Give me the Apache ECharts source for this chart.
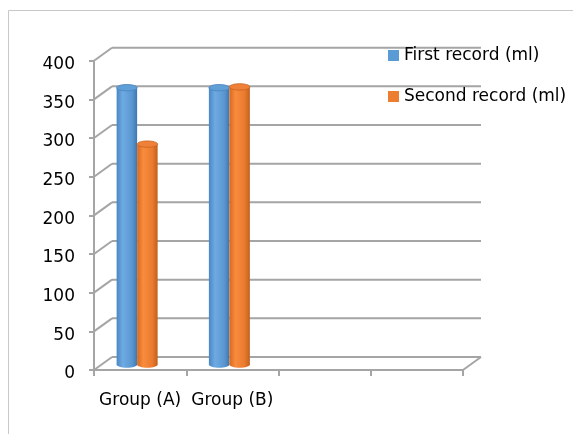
<!DOCTYPE html>
<html>
<head>
<meta charset="utf-8">
<script src="https://cdn.jsdelivr.net/npm/echarts@6/dist/echarts.min.js"></script>
<style>
html,body{margin:0;padding:0;background:#fff;}
#chart{width:573px;height:434px;}
</style>
</head>
<body>
<div id="chart"></div>
<script>
// ---- data ----
const categories = ['Group (A)', 'Group (B)', '', ''];
const seriesNames = ['First record (ml)', 'Second record (ml)'];
const firstRecord = [358, 358];
const secondRecord = [285, 359];
const yTicks = [0, 50, 100, 150, 200, 250, 300, 350, 400];

// ---- style constants ----
const FONT = 'DejaVu Sans';
const FS = 17;
const GRID_COLOR = '#a5a5a5';
const DX = 18, DY = -13;       // depth offset of back wall
const BAR_OFF_Y = -5.5;        // bars stand mid-depth
const BAR_W = 20.5;
const PAIR_SHIFT = -3;

const chart = echarts.init(document.getElementById('chart'), null, {renderer: 'canvas'});

function frameRender(params, api) {
  const v = api.value(1);
  const p = api.coord([0, v]);
  const band = api.size([1, 0])[0];
  const x0 = p[0] - band / 2;
  const x1 = x0 + categories.length * band;
  const y = p[1];
  const st = {stroke: GRID_COLOR, lineWidth: 2};
  const children = [
    {type: 'line', shape: {x1: x0, y1: y, x2: x0 + DX, y2: y + DY}, style: st},
    {type: 'line', shape: {x1: x0 + DX, y1: y + DY, x2: x1 + DX, y2: y + DY}, style: st}
  ];
  if (v === 0) {
    children.push({type: 'line', shape: {x1: x1, y1: y, x2: x1 + DX, y2: y + DY}, style: st});
  }
  return {type: 'group', children};
}

const palettes = [
  {grad: [[0, '#4a86c4'], [0.3, '#6eaae2'], [0.75, '#5a97d2'], [1, '#3f77b0']], top: '#5f9fd8', edge: '#4a82bd'},
  {grad: [[0, '#d8691f'], [0.3, '#f88c3d'], [0.75, '#ea7a2e'], [1, '#c0601c']], top: '#ee8038', edge: '#c9621d'}
];

function cylRender(idx) {
  return function (params, api) {
    const ci = api.value(0), v = api.value(1);
    const c = api.coord([ci, v]);
    const base = api.coord([ci, 0]);
    const rx = BAR_W / 2, ry = 3.2;
    const cx = c[0] + PAIR_SHIFT + (idx === 0 ? -rx : rx);
    const yTop = c[1] + BAR_OFF_Y, yBot = base[1] + BAR_OFF_Y;
    const pal = palettes[idx];
    const grad = new echarts.graphic.LinearGradient(0, 0, 1, 0,
      pal.grad.map(s => ({offset: s[0], color: s[1]})));
    return {
      type: 'group',
      children: [
        {type: 'ellipse', shape: {cx: cx, cy: yBot, rx: rx, ry: ry}, style: {fill: grad}},
        {type: 'rect', shape: {x: cx - rx, y: yTop, width: BAR_W, height: yBot - yTop}, style: {fill: grad}},
        {type: 'ellipse', shape: {cx: cx, cy: yTop, rx: rx, ry: ry}, style: {fill: pal.top, stroke: pal.edge, lineWidth: 0.8}}
      ]
    };
  };
}

const option = {
  backgroundColor: '#ffffff',
  animation: false,
  textStyle: {fontFamily: FONT},
  graphic: [{
    type: 'rect', silent: true,
    shape: {x: 8.5, y: 10.5, width: 700, height: 600},
    style: {fill: 'none', stroke: '#c8c8c8', lineWidth: 1}
  }],
  legend: {
    orient: 'vertical', left: 388, top: 47, padding: 0,
    icon: 'rect', itemWidth: 11, itemHeight: 11, itemGap: 24,
    textStyle: {fontFamily: FONT, fontSize: FS, color: '#000'},
    data: seriesNames
  },
  grid: {left: 94, right: 110, top: 60.7, bottom: 64},
  xAxis: {
    type: 'category', data: categories,
    axisLine: {show: true, lineStyle: {color: GRID_COLOR, width: 2}},
    axisTick: {show: true, interval: 0, length: 6, lineStyle: {color: GRID_COLOR, width: 2}},
    axisLabel: {interval: 0, color: '#000', fontSize: FS, fontFamily: FONT, margin: 22}
  },
  yAxis: {
    type: 'value', min: 0, max: 400, interval: 50,
    axisLine: {show: true, lineStyle: {color: GRID_COLOR, width: 2}},
    axisTick: {show: true, length: 5, lineStyle: {color: GRID_COLOR, width: 2}},
    axisLabel: {
      color: '#000', fontSize: FS, fontFamily: FONT, margin: 19,
      formatter: v => '{a|' + v + '}',
      rich: {a: {fontSize: FS, fontFamily: FONT, color: '#000', padding: [8, 0, 0, 0]}}
    },
    splitLine: {show: false}
  },
  series: [
    {
      type: 'custom', name: '_frame', silent: true, z: 1,
      renderItem: frameRender,
      data: yTicks.map(v => [0, v])
    },
    {
      type: 'custom', name: seriesNames[0], z: 3,
      itemStyle: {color: '#5B9BD5'},
      renderItem: cylRender(0),
      data: firstRecord.map((v, i) => [i, v])
    },
    {
      type: 'custom', name: seriesNames[1], z: 3,
      itemStyle: {color: '#ED7D31'},
      renderItem: cylRender(1),
      data: secondRecord.map((v, i) => [i, v])
    }
  ]
};
chart.setOption(option);
</script>
</body>
</html>
